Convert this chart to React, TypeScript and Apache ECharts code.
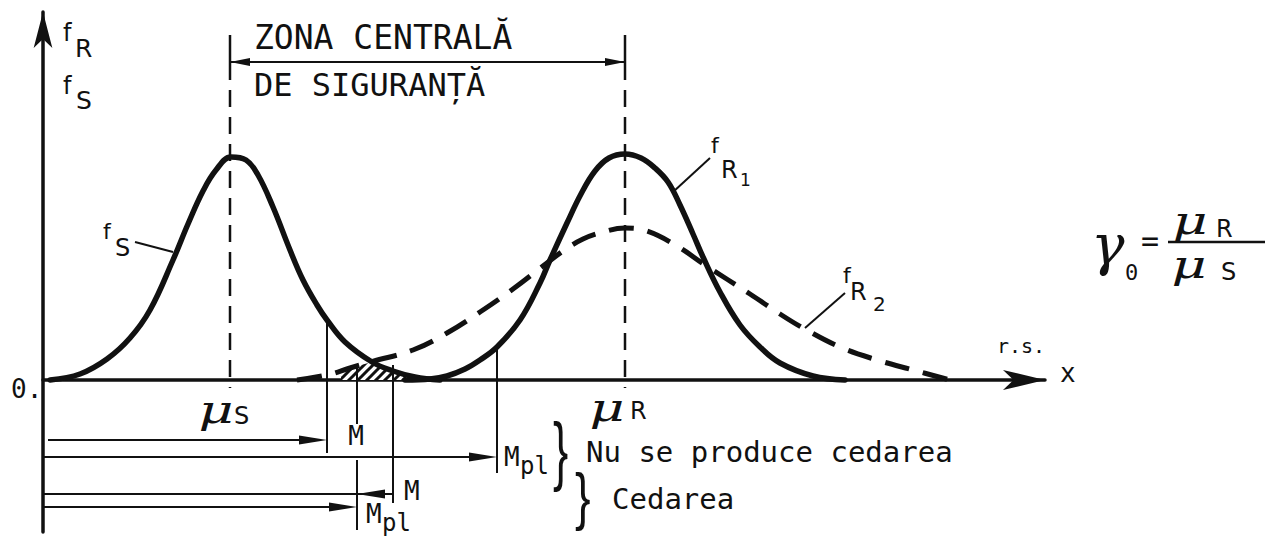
import React, { useEffect, useRef } from "react";
import * as echarts from "echarts";

const WIDTH = 1272;
const HEIGHT = 536;
const INK = "#111";
const MONO = '"DejaVu Sans Mono", monospace';
const SANS = '"DejaVu Sans", sans-serif';
const SERIF = '"DejaVu Serif", serif';

// Extent of the diagram in r.s. units (abscissa) and density units (ordinate)
const X_MAX = 100.2;
const Y_MIN = -15.2;
const Y_MAX = 36.8;

// Characteristic abscissas
const muS = 18.7;
const muR = 58.2;
const mNoFail = 28.4;
const mplNoFail = 45.4;
const mFail = 35.0;
const mplFail = 31.4;

// Ordinates of the comparison rows drawn under the axis
const rowNoFailM = -6.0;
const rowNoFailMpl = -7.7;
const rowFailM = -11.4;
const rowFailMpl = -12.7;

// Dimension line of the central safety zone and top of the mean lines
const zoneLevel = 31.8;
const meanTop = 34.5;
const meanSolidEnd = 30.0;

// Load effect density f_S
const fS: [number, number][] = [
  [0.7, 0], [3.7, 0.6], [6.4, 2.1], [8.7, 4.2], [10.7, 7.0], [13.0, 12.0],
  [14.5, 15.6], [16.0, 18.9], [17.3, 21.0], [18.8, 22.3], [20.3, 22.0],
  [21.5, 20.5], [23.0, 17.3], [24.7, 13.0], [26.0, 10.0], [27.4, 7.5],
  [28.4, 6.0], [30.2, 3.8], [32.9, 1.8], [35.0, 0.9], [37.2, 0.3], [39.7, 0],
];

// Resistance density f_R1 (narrow)
const fR1: [number, number][] = [
  [36.2, 0], [38.7, 0.1], [40.4, 0.4], [42.2, 1.1], [43.7, 2.0], [45.4, 3.3],
  [47.7, 6.0], [49.7, 9.7], [50.7, 12.0], [52.4, 15.7], [53.8, 18.6],
  [55.2, 20.9], [56.6, 22.2], [58.2, 22.6], [59.8, 22.2], [61.2, 21.2],
  [62.5, 19.8], [63.7, 17.5], [65.0, 14.6], [66.0, 12.3], [67.7, 8.8],
  [69.7, 5.5], [71.7, 3.3], [73.7, 1.7], [77.0, 0.4], [80.2, 0],
];

// Resistance density f_R2 (wide)
const fR2: [number, number][] = [
  [25.4, 0], [28.4, 0.5], [30.7, 1.2], [32.9, 1.85], [37.0, 3.0], [40.4, 4.7],
  [43.7, 6.8], [47.0, 9.1], [50.0, 11.4], [52.0, 12.9], [54.0, 14.1],
  [56.0, 14.8], [58.2, 15.2], [60.4, 14.9], [63.4, 13.4], [66.2, 11.5],
  [70.7, 8.6], [73.7, 6.6], [76.0, 5.2], [79.7, 3.3], [83.4, 2.0],
  [87.0, 1.0], [90.7, 0],
];

// Upper edge of the hatched overlap of f_S and f_R2
const overlap: [number, number][] = [
  [29.8, 0.95], [30.7, 1.2], [32.9, 1.8], [35.0, 0.9], [36.3, 0.45],
];

// Straight guide segments [x1, y1, x2, y2]
const thinSegments: number[][] = [
  [mNoFail, 6.0, mNoFail, -7.3],
  [mplFail, 1.2, mplFail, -4.4],
  [mplFail, -8.0, mplFail, -15.0],
  [mFail, 1.5, mFail, -12.3],
  [mplNoFail, 3.3, mplNoFail, -9.3],
  [0, rowFailM, mFail, rowFailM],
  [9.2, 13.8, 13.0, 12.8],
  [66.7, 22.2, 63.0, 18.8],
  [80.2, 8.7, 76.2, 5.2],
];
const meanSolid: number[][] = [
  [muS, meanTop, muS, meanSolidEnd],
  [muR, meanTop, muR, meanSolidEnd],
];
const meanDashed: number[][] = [
  [muS, meanSolidEnd - 1.0, muS, -0.8],
  [muR, meanSolidEnd - 1.0, muR, -0.8],
];
// Arrows [fromX, fromY, toX, toY], head at the "to" end
const rowArrows: number[][] = [
  [0.5, rowNoFailM, mNoFail, rowNoFailM],
  [0, rowNoFailMpl, mplNoFail, rowNoFailMpl],
  [mFail, rowFailM, mplFail, rowFailM],
  [0, rowFailMpl, mplFail, rowFailMpl],
];
const zoneArrows: number[][] = [
  [muR, zoneLevel, muS, zoneLevel],
  [muS, zoneLevel, muR, zoneLevel],
];

function segmentSeries(id: string, items: number[][], style: any, z = 4) {
  return {
    type: "custom",
    id,
    coordinateSystem: "cartesian2d",
    silent: true,
    clip: false,
    z,
    encode: { x: [0, 2], y: [1, 3] },
    data: items,
    renderItem: (_p: any, api: any) => {
      const a = api.coord([api.value(0), api.value(1)]);
      const b = api.coord([api.value(2), api.value(3)]);
      return {
        type: "line",
        shape: { x1: a[0], y1: a[1], x2: b[0], y2: b[1] },
        style: { stroke: INK, fill: null, ...style },
      };
    },
  };
}

function arrowSeries(id: string, items: number[][], headLen: number, headHalf: number, width: number) {
  return {
    type: "custom",
    id,
    coordinateSystem: "cartesian2d",
    silent: true,
    clip: false,
    z: 5,
    encode: { x: [0, 2], y: [1, 3] },
    data: items,
    renderItem: (_p: any, api: any) => {
      const a = api.coord([api.value(0), api.value(1)]);
      const b = api.coord([api.value(2), api.value(3)]);
      const dx = b[0] - a[0];
      const dy = b[1] - a[1];
      const len = Math.hypot(dx, dy) || 1;
      const ux = dx / len;
      const uy = dy / len;
      const bx = b[0] - ux * headLen;
      const by = b[1] - uy * headLen;
      return {
        type: "group",
        children: [
          {
            type: "line",
            shape: { x1: a[0], y1: a[1], x2: bx, y2: by },
            style: { stroke: INK, lineWidth: width },
          },
          {
            type: "polygon",
            shape: {
              points: [
                [b[0], b[1]],
                [bx - uy * headHalf, by + ux * headHalf],
                [bx + uy * headHalf, by - ux * headHalf],
              ],
            },
            style: { fill: INK },
          },
        ],
      };
    },
  };
}

function hatchPattern() {
  const c = document.createElement("canvas");
  c.width = 9;
  c.height = 9;
  const g = c.getContext("2d")!;
  g.fillStyle = "#fff";
  g.fillRect(0, 0, 9, 9);
  g.strokeStyle = INK;
  g.lineWidth = 3;
  g.beginPath();
  g.moveTo(-1, 10);
  g.lineTo(10, -1);
  g.moveTo(-1, 1);
  g.lineTo(1, -1);
  g.moveTo(8, 10);
  g.lineTo(10, 8);
  g.stroke();
  return { image: c, repeat: "repeat", imageWidth: 9, imageHeight: 9 };
}

function txt(text: string, x: number, y: number, size: number, family = MONO, extra: any = {}, el: any = {}) {
  return {
    type: "text",
    x,
    y,
    silent: true,
    z: 20,
    ...el,
    style: {
      text,
      fill: INK,
      font: `${extra.fontStyle || "normal"} ${size}px ${family}`,
      textAlign: extra.align || "left",
      align: extra.align || "left",
      textVerticalAlign: "middle",
      verticalAlign: "middle",
    },
  };
}

export default function App() {
  const ref = useRef<HTMLDivElement>(null);

  useEffect(() => {
    if (!ref.current) return;
    const chart = echarts.init(ref.current, null, { renderer: "svg", width: WIDTH, height: HEIGHT });

    const curve = (id: string, data: [number, number][], lineStyle: any) => ({
      type: "line",
      id,
      data,
      smooth: 0.4,
      showSymbol: false,
      silent: true,
      z: 6,
      lineStyle: { color: INK, width: 5.5, cap: "round", join: "round", ...lineStyle },
    });

    chart.setOption({
      animation: false,
      backgroundColor: "#fff",
      grid: { left: 43, right: WIDTH - 1045, top: 12, bottom: 4, outerBoundsMode: "none" },
      xAxis: {
        type: "value",
        min: 0,
        max: X_MAX,
        axisLine: {
          show: true,
          onZero: true,
          symbol: ["none", "arrow"],
          symbolSize: [15, 42],
          lineStyle: { color: INK, width: 3.5 },
        },
        axisTick: { show: false },
        axisLabel: { show: false },
        splitLine: { show: false },
      },
      yAxis: {
        type: "value",
        min: Y_MIN,
        max: Y_MAX,
        axisLine: {
          show: true,
          onZero: true,
          symbol: ["none", "arrow"],
          symbolSize: [14, 36],
          lineStyle: { color: INK, width: 3.5 },
        },
        axisTick: { show: false },
        axisLabel: { show: false },
        splitLine: { show: false },
      },
      series: [
        {
          type: "line",
          id: "overlap",
          data: overlap,
          showSymbol: false,
          silent: true,
          z: 3,
          lineStyle: { width: 0 },
          areaStyle: { color: hatchPattern(), opacity: 1 },
        },
        curve("fS", fS, {}),
        curve("fR1", fR1, {}),
        curve("fR2", fR2, { type: [25, 14], cap: "butt", width: 5 }),
        segmentSeries("guides", thinSegments, { lineWidth: 2 }),
        segmentSeries("meanSolid", meanSolid, { lineWidth: 2.5 }),
        segmentSeries("meanDashed", meanDashed, { lineWidth: 2.5, lineDash: [17, 10] }),
        arrowSeries("rows", rowArrows, 28, 4.5, 2),
        arrowSeries("zone", zoneArrows, 20, 4, 2),
      ],
    });

    const px = (x: number, y: number) => chart.convertToPixel({ gridIndex: 0 }, [x, y]) as number[];
    const pS = px(muS, 0);
    const pR = px(muR, 0);
    const pM1 = px(mNoFail, rowNoFailM);
    const pMpl1 = px(mplNoFail, rowNoFailMpl);
    const pM2 = px(mFail, rowFailM);
    const pMpl2 = px(mplFail, rowFailMpl);
    const wideMu = { scaleX: 1.35 };

    chart.setOption({
      graphic: [
        // axis titles
        txt("f", 63, 33, 24, SANS),
        txt("R", 75, 48, 25, SANS),
        txt("f", 63, 86, 24, SANS),
        txt("S", 76, 100, 25, SANS),
        // central zone
        txt("ZONA CENTRALĂ", 254, 37, 33),
        txt("DE SIGURANȚĂ", 254, 85, 32),
        // curve labels
        txt("f", 103, 231, 22, SANS),
        txt("S", 115, 248, 24, SANS),
        txt("f", 711, 145, 22, SANS),
        txt("R", 721, 170, 24, SANS),
        txt("1", 740, 180, 17, SANS),
        txt("f", 843, 275, 22, SANS),
        txt("R", 850, 292, 24, SANS),
        txt("2", 873, 304, 20, SANS),
        // origin and abscissa
        txt("0.", 11, 389, 26),
        txt("r.s.", 997, 346, 20),
        txt("x", 1060, 373, 26),
        // means
        txt("μ", pS[0] - 14, pS[1] + 29, 40, SERIF, { align: "center", fontStyle: "italic" }, wideMu),
        txt("S", pS[0] + 4, pS[1] + 36, 24, SANS),
        txt("μ", pR[0] - 18, pR[1] + 27, 40, SERIF, { align: "center", fontStyle: "italic" }, wideMu),
        txt("R", pR[0] + 5, pR[1] + 31, 24, SANS),
        // M and M_pl
        txt("M", pM1[0] + 29, pM1[1] - 4, 26, MONO, { align: "center" }),
        txt("M", pMpl1[0] + 7, pMpl1[1], 26),
        txt("pl", pMpl1[0] + 23, pMpl1[1] + 9, 24),
        txt("M", pM2[0] + 11, pM2[1] - 3, 26),
        txt("M", pMpl2[0] + 9, pMpl2[1] + 7, 26),
        txt("pl", pMpl2[0] + 25, pMpl2[1] + 16, 24),
        // outcome braces
        txt("}", 553, 449, 76, '"Liberation Sans"', {}, { scaleX: 0.6 }),
        txt("Nu se produce cedarea", 586, 452, 29),
        txt("}", 575, 497, 62, '"Liberation Sans"', {}, { scaleX: 0.75 }),
        txt("Cedarea", 612, 499, 29),
        // safety factor
        txt("γ", 1091, 244, 56, SERIF, { fontStyle: "italic" }),
        txt("0", 1125, 272, 22),
        txt("=", 1141, 240, 30),
        {
          type: "line",
          silent: true,
          shape: { x1: 1168, y1: 242, x2: 1265, y2: 242 },
          style: { stroke: INK, lineWidth: 2.5 },
        },
        txt("μ", 1190, 220, 40, SERIF, { align: "center", fontStyle: "italic" }, wideMu),
        txt("R", 1216, 229, 24, SANS),
        txt("μ", 1189, 264, 40, SERIF, { align: "center", fontStyle: "italic" }, wideMu),
        txt("S", 1221, 272, 24, SANS),
      ],
    });

    return () => chart.dispose();
  }, []);

  return (
    <div
      ref={ref}
      style={{ position: "fixed", left: 0, top: 0, width: WIDTH, height: HEIGHT, background: "#fff" }}
    />
  );
}
